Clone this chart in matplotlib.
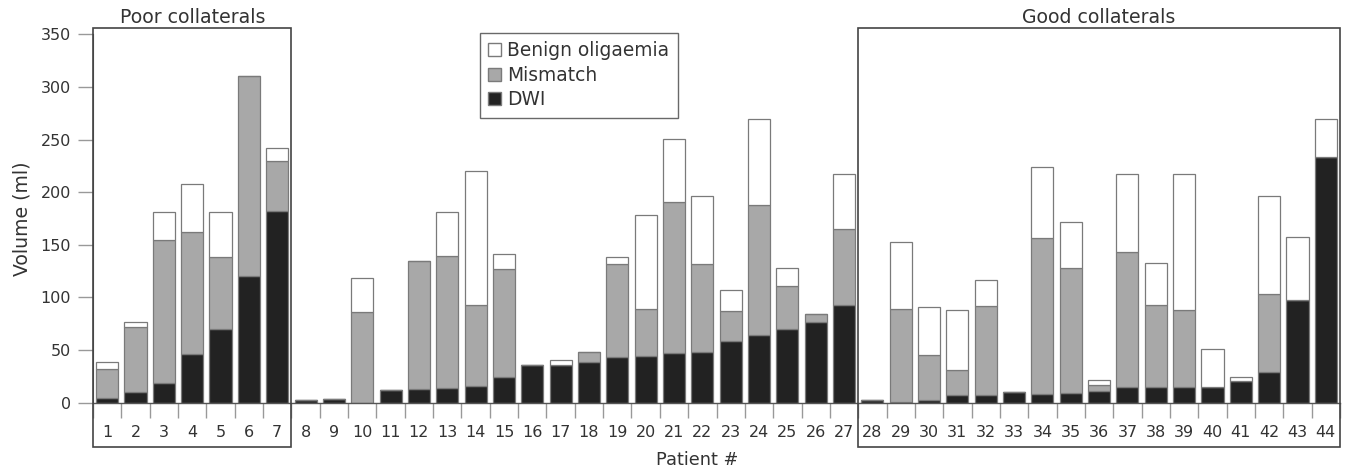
import matplotlib
matplotlib.use("Agg")
import matplotlib.pyplot as plt
from matplotlib.patches import Rectangle, Patch
import numpy as np

plt.rcParams['font.family'] = ['DejaVu Sans']

patients = list(range(1, 45))
dwi = [4, 10, 19, 46, 70, 120, 182, 2.5, 3.5, 0, 12.5, 13, 14, 16, 24, 35.5, 36, 38.5, 43, 44,
       47, 48, 59, 64, 70, 77, 93, 2.5, 1, 3, 7.5, 7.5, 10, 8, 9.5, 11, 14.5, 14.5, 14.5, 15,
       20.5, 29, 98, 233]
mismatch = [28, 62, 136, 116, 68, 190, 48, 0, 0, 86, 0, 122, 125, 77, 103, 0, 0, 10, 89, 45,
            144, 84, 28, 124, 41, 7, 72, 0, 88, 42, 23.5, 84, 0, 148, 118, 6, 129, 78, 74, 0,
            0, 74, 0, 0]
benign = [7, 5, 26, 46, 43, 0, 12, 0, 0, 32, 0, 0, 42, 127, 14, 0, 5, 0, 6, 89,
          60, 64, 20, 82, 17, 0, 52, 0, 64, 46, 57, 25, 0, 68, 44, 5, 74, 40, 129, 36,
          3.5, 93, 59, 37]

series_labels = ['Benign oligaemia', 'Mismatch', 'DWI']
group_labels = ['Poor collaterals', 'Good collaterals']
group_first = [1, 28]
group_last = [7, 44]
yticks = [0, 50, 100, 150, 200, 250, 300, 350]

col_dwi = '#222222'
col_mm = '#a8a8a8'
col_ben = '#ffffff'
edge = '#7a7a7a'
txt = '#333333'

fig = plt.figure(figsize=(13.5, 4.74), dpi=100)
ax = fig.add_axes([93 / 1350, 1 - 402.7 / 474, (1340 - 93) / 1350, (402.7 - 34.3) / 474])

x = np.array(patients)
d = np.array(dwi, dtype=float)
m = np.array(mismatch, dtype=float)
b = np.array(benign, dtype=float)
w = 0.78
ax.bar(x, d, width=w, color=col_dwi, edgecolor=edge, linewidth=0.9, zorder=2)
ax.bar(x, m, bottom=d, width=w, color=col_mm, edgecolor=edge, linewidth=0.9, zorder=2)
ax.bar(x, b, bottom=d + m, width=w, color=col_ben, edgecolor=edge, linewidth=0.9, zorder=2)

ax.set_xlim(0.5, 44.5)
ax.set_ylim(0, 350)
ax.set_yticks(yticks)
ax.set_xticks(x)
ax.set_xticklabels([str(p) for p in patients])
ax.set_xticks(np.arange(0.5, 45, 1), minor=True)
ax.tick_params(axis='x', which='major', length=0, pad=16.3, labelsize=11.5, labelcolor=txt)
ax.tick_params(axis='x', which='minor', length=11, width=1, color='#999999', direction='out')
ax.tick_params(axis='y', which='major', length=11, width=1, color='#999999', pad=5,
               labelsize=11.5, labelcolor=txt)

for s in ['top', 'right']:
    ax.spines[s].set_visible(False)
ax.spines['left'].set_color('#555555')
ax.spines['bottom'].set_color('#555555')
ax.spines['bottom'].set_linewidth(1.0)

ax.set_ylabel('Volume (ml)', fontsize=13.6, color=txt, labelpad=6)
ax.text(21.81, -59.2, 'Patient #', ha='center', va='baseline', fontsize=12.8, color=txt,
        clip_on=False)

for lab, f, l in zip(group_labels, group_first, group_last):
    r = Rectangle((f - 0.5, -42), l - f + 1, 398, fill=False, edgecolor='#444444',
                  linewidth=1.2, clip_on=False, zorder=3)
    ax.add_patch(r)
    ax.text((f + l) / 2, 361, lab, ha='center', va='baseline', fontsize=13.6, color=txt,
            clip_on=False)

handles = [Patch(facecolor=col_ben, edgecolor=edge),
           Patch(facecolor=col_mm, edgecolor=edge),
           Patch(facecolor=col_dwi, edgecolor=edge)]
leg = fig.legend(handles, series_labels, loc='upper left',
                 bbox_to_anchor=(480 / 1350, 1 - 33 / 474), fontsize=13.4,
                 frameon=True, fancybox=False, handlelength=0.7, handleheight=0.7,
                 handletextpad=0.32, labelspacing=0.29, borderpad=0.45, borderaxespad=0)
leg.get_frame().set_edgecolor('#444444')
leg.get_frame().set_linewidth(1.0)
for t in leg.get_texts():
    t.set_color(txt)

fig.savefig('out.png', dpi=100)
